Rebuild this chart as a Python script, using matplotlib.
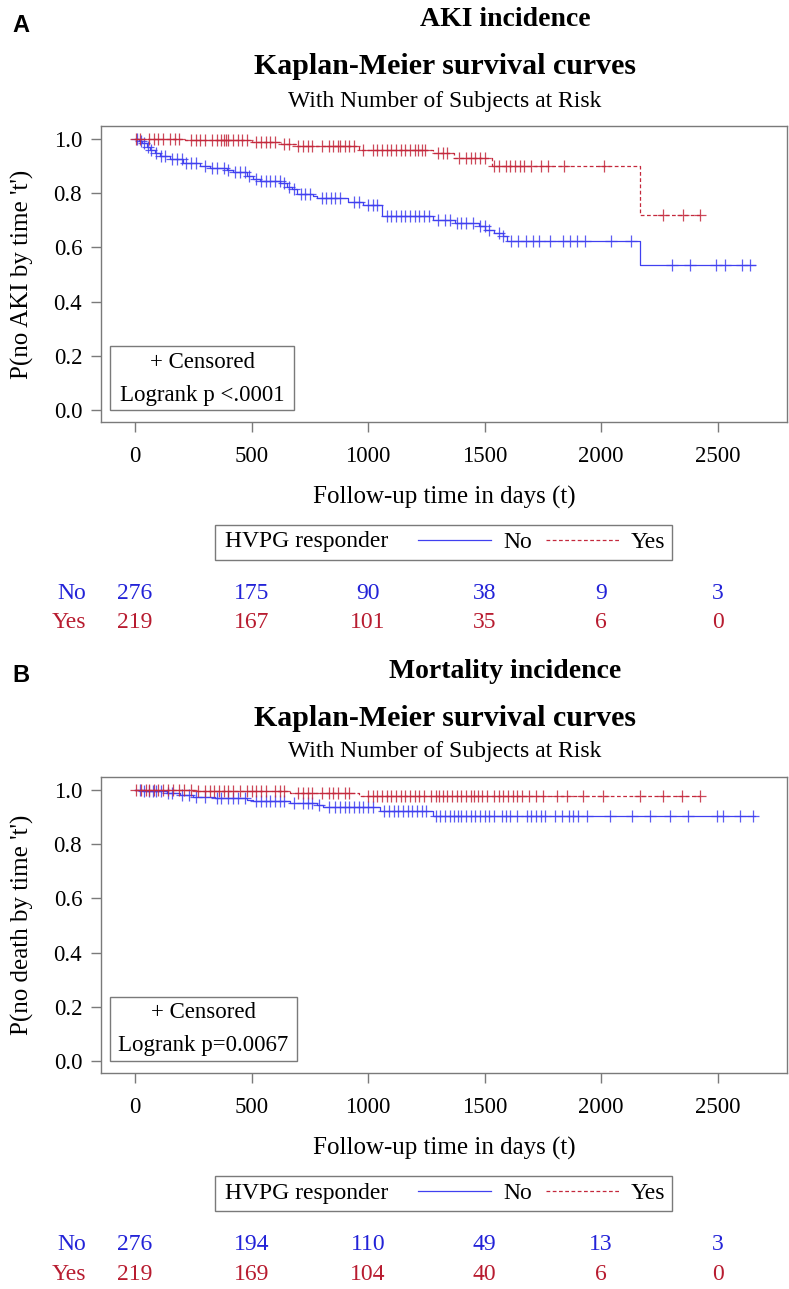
import numpy as np
import matplotlib
matplotlib.use("Agg")
import matplotlib.pyplot as plt
from matplotlib.patches import Rectangle
from matplotlib.lines import Line2D
import matplotlib.transforms as mtransforms

# ---------------- data ----------------
risk_times = [0, 500, 1000, 1500, 2000, 2500]
x_ticks = [0, 500, 1000, 1500, 2000, 2500]
y_ticks = [0.0, 0.2, 0.4, 0.6, 0.8, 1.0]
group_labels = ["No", "Yes"]

# Panel A (AKI)
a_no_t = [0, 19, 29, 50, 64, 86, 107, 150, 206, 279, 322, 393, 421, 479, 508, 536, 622, 651, 672,
          694, 765, 779, 915, 980, 1058, 1278, 1371, 1474, 1502, 1539, 1577, 1595, 2165]
a_no_s = [1.0, 0.990, 0.983, 0.971, 0.958, 0.946, 0.937, 0.924, 0.912, 0.901, 0.893, 0.885, 0.876,
          0.864, 0.851, 0.844, 0.836, 0.823, 0.813, 0.796, 0.789, 0.781, 0.768, 0.757, 0.715, 0.701,
          0.689, 0.677, 0.665, 0.652, 0.640, 0.622, 0.536]
a_no_end = 2660
a_no_cens = [10, 25, 40, 55, 70, 90, 110, 130, 160, 180, 200, 220, 240, 260, 300, 330, 350, 380, 400,
             430, 450, 470, 490, 520, 540, 560, 580, 600, 620, 640, 660, 680, 710, 730, 750, 800, 820,
             840, 860, 880, 940, 960, 1000, 1020, 1040, 1080, 1100, 1120, 1140, 1160, 1180, 1200, 1220,
             1240, 1260, 1300, 1330, 1350, 1380, 1400, 1420, 1450, 1480, 1500, 1520, 1560, 1580, 1614,
             1642, 1679, 1707, 1735, 1782, 1838, 1866, 1894, 1931, 2043, 2127, 2304, 2379, 2491, 2529,
             2603, 2640]
a_yes_t = [0, 215, 500, 625, 690, 960, 1280, 1370, 1530, 2165]
a_yes_s = [1.0, 0.994, 0.987, 0.981, 0.974, 0.960, 0.947, 0.929, 0.898, 0.72]
a_yes_end = 2425
a_yes_cens = [5, 20, 60, 80, 100, 120, 150, 170, 190, 240, 260, 280, 300, 330, 350, 370, 380, 390, 400,
              420, 440, 460, 480, 520, 540, 560, 580, 600, 640, 660, 700, 720, 740, 760, 800, 830, 850,
              870, 880, 900, 920, 940, 980, 1020, 1040, 1060, 1080, 1100, 1120, 1140, 1160, 1180, 1200,
              1215, 1230, 1245, 1300, 1320, 1340, 1390, 1420, 1440, 1460, 1480, 1500, 1540, 1560, 1590,
              1610, 1630, 1650, 1670, 1700, 1740, 1770, 1840, 2010, 2265, 2350, 2425]
a_no_risk = [276, 175, 90, 38, 9, 3]
a_yes_risk = [219, 167, 101, 35, 6, 0]

# Panel B (mortality)
b_no_t = [0, 29, 136, 193, 250, 343, 479, 508, 665, 779, 808, 1052, 1278]
b_no_s = [1.0, 0.994, 0.988, 0.982, 0.975, 0.968, 0.962, 0.957, 0.951, 0.942, 0.938, 0.923, 0.903]
b_no_end = 2660
b_no_cens = [20, 40, 60, 75, 90, 110, 140, 160, 200, 230, 260, 300, 350, 370, 400, 420, 440, 470, 520,
             540, 560, 580, 600, 620, 640, 680, 720, 740, 760, 790, 830, 860, 880, 900, 920, 940, 960,
             980, 1000, 1020, 1070, 1090, 1110, 1130, 1150, 1170, 1190, 1210, 1230, 1250, 1290, 1310,
             1330, 1350, 1370, 1385, 1400, 1420, 1440, 1460, 1480, 1500, 1520, 1540, 1575, 1590, 1610,
             1640, 1680, 1700, 1720, 1740, 1760, 1800, 1830, 1860, 1880, 1900, 1940, 2038, 2131, 2209,
             2295, 2373, 2495, 2523, 2595, 2652]
b_yes_t = [0, 260, 665, 960]
b_yes_s = [1.0, 0.996, 0.989, 0.978]
b_yes_end = 2424
b_yes_cens = [5, 25, 45, 60, 80, 100, 120, 140, 165, 190, 210, 240, 270, 300, 320, 340, 360, 380, 400,
              420, 450, 480, 500, 520, 540, 560, 600, 620, 640, 700, 720, 740, 760, 800, 830, 850, 870,
              900, 920, 1000, 1020, 1040, 1060, 1080, 1100, 1120, 1140, 1160, 1180, 1200, 1220, 1240,
              1270, 1290, 1305, 1320, 1340, 1360, 1380, 1400, 1420, 1440, 1455, 1470, 1490, 1510, 1540,
              1560, 1580, 1600, 1620, 1640, 1660, 1690, 1720, 1750, 1809, 1852, 1922, 2008, 2166, 2266,
              2345, 2424]
b_no_risk = [276, 194, 110, 49, 13, 3]
b_yes_risk = [219, 169, 104, 40, 6, 0]

# ---------------- style ----------------
W, H = 789, 1289
SERIF = "Liberation Serif"
BLUE_LINE = "#4040f0"
RED_LINE = "#c4283c"
BLUE_TXT = "#2323d8"
RED_TXT = "#b81c30"
FRAME = "#7a7a7a"

plt.rcParams["font.family"] = [SERIF, "DejaVu Serif"]

fig = plt.figure(figsize=(W / 100, H / 100), dpi=100)


def fx(px):
    return px / W


def fy(py):
    return 1 - py / H


def km(ax, t, s, end, cens, color, ls):
    t = np.asarray(t, float)
    s = np.asarray(s, float)
    tt = np.append(t, end)
    ss = np.append(s, s[-1])
    line, = ax.step(tt, ss, where="post", color=color, ls=ls, lw=0.9,
                    dashes=(3, 2) if ls == "--" else (None, None))
    cens = np.asarray(cens, float)
    idx = np.searchsorted(t, cens, side="right") - 1
    ax.plot(cens, s[idx], ls="none", marker="+", ms=8, mew=0.9, color=color, alpha=0.85)
    return line


def panel(off, letter, title, ylabel, logrank, no_t, no_s, no_end, no_c, yes_t, yes_s, yes_end, yes_c,
          no_risk, yes_risk, box_right):
    left, right = 101, 787
    top, bottom = 126 + off, 422 + off
    ax = fig.add_axes([fx(left), fy(bottom), fx(right) - fx(left), (bottom - top) / H])
    ax.set_xlim(-146, 2797)
    ax.set_ylim(-0.044, 1.047)
    for sp in ax.spines.values():
        sp.set_color(FRAME)
        sp.set_linewidth(1.0)
    ax.set_xticks(x_ticks)
    ax.set_yticks(y_ticks)
    ax.set_yticklabels([f"{v:.1f}" for v in y_ticks])
    ax.tick_params(axis="both", direction="out", length=7.5, width=1.0, color=FRAME,
                   labelsize=16.5, labelcolor="black")
    ax.tick_params(axis="x", pad=10)
    ax.tick_params(axis="y", pad=6)

    km(ax, no_t, no_s, no_end, no_c, BLUE_LINE, "-")
    km(ax, yes_t, yes_s, yes_end, yes_c, RED_LINE, "--")

    ax.set_xlabel("Follow-up time in days (t)", fontsize=18)
    ax.xaxis.label.set_va("center")
    ax.xaxis.set_label_coords(0.5, (bottom - (497 + off)) / (bottom - top))
    ax.set_ylabel(ylabel, fontsize=18)
    ax.yaxis.label.set_va("center")
    ax.yaxis.set_label_coords((22 - left) / (right - left), 0.5)

    # censored / logrank box
    bw = (bottom - top)
    aw = (right - left)
    ax.add_patch(Rectangle(((110 - left) / aw, (bottom - (410 + off)) / bw),
                           (box_right - 110) / aw, (410 - 346) / bw,
                           transform=ax.transAxes, fill=False, ec=FRAME, lw=1.0, zorder=5))
    cx = ((110 + box_right) / 2 - left) / aw
    ax.text(cx, (bottom - (362 + off)) / bw, "+ Censored", transform=ax.transAxes,
            ha="center", va="center", fontsize=16.5)
    ax.text(cx, (bottom - (395 + off)) / bw, logrank, transform=ax.transAxes,
            ha="center", va="center", fontsize=16.5)

    # titles
    fig.text(fx(12), fy(25 + off), letter, family="Liberation Sans", weight="bold",
             fontsize=17, ha="left", va="center")
    fig.text(fx(505), fy(20 + off), title, weight="bold", fontsize=20, ha="center", va="center")
    fig.text(fx(445), fy(67 + off), "Kaplan-Meier survival curves", weight="bold", fontsize=21.5,
             ha="center", va="center")
    fig.text(fx(445), fy(101 + off), "With Number of Subjects at Risk", fontsize=17,
             ha="center", va="center")

    # legend
    fig.add_artist(Rectangle((fx(215), fy(560 + off)), fx(672) - fx(215), 35 / H,
                             transform=fig.transFigure, fill=False, ec=FRAME, lw=1.0))
    fig.text(fx(225), fy(542 + off), "HVPG responder", fontsize=17, ha="left", va="center")
    h_no = Line2D([], [], color=BLUE_LINE, lw=0.9)
    h_yes = Line2D([], [], color=RED_LINE, lw=0.9, ls="--", dashes=(3, 2))
    fig.legend([h_no, h_yes], group_labels, ncol=2, loc="center left",
               bbox_to_anchor=(fx(418), fy(542 + off)), frameon=False, fontsize=17,
               handlelength=3.1, handletextpad=0.5, columnspacing=0.6,
               borderpad=0, borderaxespad=0)

    # risk table
    tr = mtransforms.blended_transform_factory(ax.transData, fig.transFigure)
    for row_y, lab, vals, col in [(594, group_labels[0], no_risk, BLUE_TXT),
                                  (623, group_labels[1], yes_risk, RED_TXT)]:
        fig.text(fx(86), fy(row_y + off), lab, color=col, fontsize=17, ha="right", va="center")
        for xt, v in zip(risk_times, vals):
            ax.text(xt, fy(row_y + off), str(v), transform=tr, color=col, fontsize=17,
                    ha="center", va="center", clip_on=False)
    return ax


panel(0, "A", "AKI incidence", "P(no AKI by time 't')", "Logrank p <.0001",
      a_no_t, a_no_s, a_no_end, a_no_cens, a_yes_t, a_yes_s, a_yes_end, a_yes_cens,
      a_no_risk, a_yes_risk, 294)
panel(651, "B", "Mortality incidence", "P(no death by time 't')", "Logrank p=0.0067",
      b_no_t, b_no_s, b_no_end, b_no_cens, b_yes_t, b_yes_s, b_yes_end, b_yes_cens,
      b_no_risk, b_yes_risk, 297)

fig.savefig("out.png", dpi=100)
